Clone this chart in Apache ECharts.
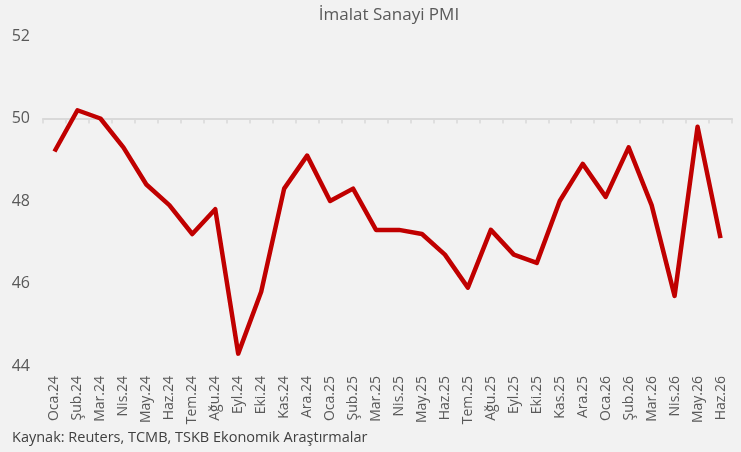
<!DOCTYPE html>
<html>
<head>
<meta charset="utf-8">
<script src="https://cdn.jsdelivr.net/npm/echarts@6/dist/echarts.min.js"></script>
<style>
  html, body { margin: 0; padding: 0; background: #f2f2f2; }
  #chart { width: 741px; height: 452px; }
</style>
</head>
<body>
<div id="chart"></div>
<script>
// Veri
const months = ['Oca.24', 'Şub.24', 'Mar.24', 'Nis.24', 'May.24', 'Haz.24', 'Tem.24', 'Ağu.24', 'Eyl.24', 'Eki.24',
  'Kas.24', 'Ara.24', 'Oca.25', 'Şub.25', 'Mar.25', 'Nis.25', 'May.25', 'Haz.25', 'Tem.25', 'Ağu.25',
  'Eyl.25', 'Eki.25', 'Kas.25', 'Ara.25', 'Oca.26', 'Şub.26', 'Mar.26', 'Nis.26', 'May.26', 'Haz.26'];
const pmi = [49.2, 50.2, 50.0, 49.3, 48.4, 47.9, 47.2, 47.8, 44.3, 45.8,
  48.3, 49.1, 48.0, 48.3, 47.3, 47.3, 47.2, 46.7, 45.9, 47.3,
  46.7, 46.5, 48.0, 48.9, 48.1, 49.3, 47.9, 45.7, 49.8, 47.1];
const yTicks = [44, 46, 48, 50, 52];
const threshold = 50;

const chart = echarts.init(document.getElementById('chart'));
const font = '"Open Sans", "DejaVu Sans", sans-serif';
const gridTop = 36, gridBottom = 86;
const plotH = 452 - gridTop - gridBottom;
const yMin = yTicks[0], yMax = yTicks[yTicks.length - 1];
// 50 çizgisi için üst eksenin kaydırılması
const lineOffset = -plotH * (yMax - threshold) / (yMax - yMin);

chart.setOption({
  backgroundColor: '#f2f2f2',
  textStyle: { fontFamily: font },
  title: {
    text: 'İmalat Sanayi PMI',
    left: 384, top: 2, textAlign: 'center',
    textStyle: { fontSize: 17, fontWeight: 'normal', color: '#595959', fontFamily: font }
  },
  grid: { left: 43, right: 9, top: gridTop, bottom: gridBottom },
  xAxis: [{
    type: 'category',
    data: months,
    position: 'bottom',
    axisLine: { show: false },
    axisTick: { show: false },
    axisLabel: { rotate: 90, margin: 10, fontSize: 14, color: '#595959', interval: 0 }
  }, {
    type: 'category',
    data: months,
    position: 'top',
    offset: lineOffset,
    axisLine: { show: true, lineStyle: { color: '#d9d9d9', width: 2 } },
    axisTick: { show: true, inside: true, interval: 0, length: 5, lineStyle: { color: '#d9d9d9', width: 1.5 } },
    axisLabel: { show: false, interval: 0 }
  }],
  yAxis: {
    type: 'value',
    min: yMin, max: yMax, interval: 2,
    axisLine: { show: false },
    axisTick: { show: false },
    splitLine: { show: false },
    axisLabel: { fontSize: 16, color: '#595959', margin: 13 }
  },
  series: [{
    type: 'line',
    data: pmi,
    xAxisIndex: 0,
    symbol: 'none',
    lineStyle: { color: '#c00000', width: 4.5, join: 'round' },
    z: 5
  }],
  graphic: [{
    type: 'text',
    left: 12, top: 430,
    style: { text: 'Kaynak: Reuters, TCMB, TSKB Ekonomik Araştırmalar', fontSize: 14.5, fill: '#404040', fontFamily: font }
  }]
});
</script>
</body>
</html>
